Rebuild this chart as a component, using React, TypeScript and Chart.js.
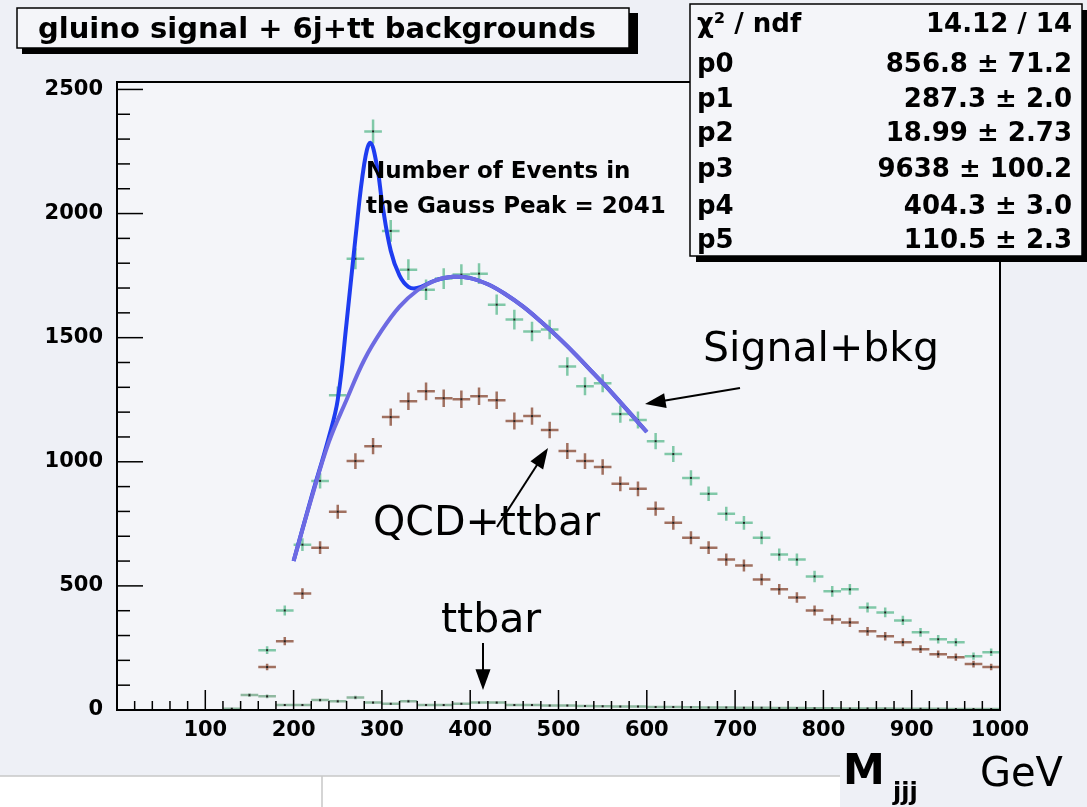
import React, { useEffect, useRef } from "react";
import { Chart, registerables } from "chart.js";
Chart.register(...registerables);

const binCenters = [170,190,210,230,250,270,290,310,330,350,370,390,410,430,450,470,490,510,530,550,570,590,610,630,650,670,690,710,730,750,770,790,810,830,850,870,890,910,930,950,970,990];
const signalBkg = [241,401,666,923,1268,1818,2331,1930,1774,1693,1738,1754,1758,1633,1573,1525,1533,1384,1304,1316,1192,1168,1083,1031,935,871,791,754,694,626,606,538,478,486,413,393,361,313,285,273,217,233];
const qcdTtbar = [173,277,469,654,799,1003,1063,1180,1244,1284,1256,1252,1264,1248,1164,1184,1128,1043,1003,979,911,891,811,754,694,654,606,582,526,486,453,401,365,353,317,297,273,245,225,213,185,173];
const ttCenters = [130,150,170,190,210,230,250,270,290,310,330,350,370,390,410,430,450,470,490,510,530,550,570,590,610,630,650,670,690,710,730,750,770,790,810,830,850,870,890,910,930,950,970,990];
const ttbar = [5,60,55,20,20,40,35,50,30,25,35,20,20,25,30,30,20,20,18,18,16,15,14,14,12,12,11,10,10,9,9,8,8,7,7,6,6,6,5,5,5,4,4,4];
const bkgX = [200,220,240,260,280,300,320,340,360,380,400,420,440,460,480,500,520,540,560,580,600];
const fitBkg = [600,850,1080,1250,1410,1530,1625,1690,1730,1745,1740,1715,1675,1625,1565,1500,1430,1355,1280,1200,1120];
const totX = [200,220,240,250,260,270,280,287,295,300,310,320,330,340,360,380,400,420,440,460,480,500,520,540,560,580,600];
const fitTotal = [600,855,1100,1250,1560,1900,2200,2285,2180,2050,1850,1750,1705,1700,1730,1745,1740,1715,1675,1625,1565,1500,1430,1355,1280,1200,1120];
const yTicks = [0,500,1000,1500,2000,2500];
const xTicks = [100,200,300,400,500,600,700,800,900,1000];
const statsRows = [["χ² / ndf","14.12 / 14"],["p0","856.8 ± 71.2"],["p1","287.3 ± 2.0"],["p2","18.99 ± 2.73"],["p3","9638 ± 100.2"],["p4","404.3 ± 3.0"],["p5","110.5 ± 2.3"]];
const statsY = [25,65,100,134,170,207,241];

const BF = "'DejaVu Sans', Verdana, sans-serif";

function arrow(ctx: CanvasRenderingContext2D, x1: number, y1: number, x2: number, y2: number) {
  const a = Math.atan2(y2 - y1, x2 - x1);
  const h = 22;
  ctx.strokeStyle = "#000"; ctx.fillStyle = "#000"; ctx.lineWidth = 2;
  ctx.beginPath(); ctx.moveTo(x1, y1); ctx.lineTo(x2 - h * 0.8 * Math.cos(a), y2 - h * 0.8 * Math.sin(a)); ctx.stroke();
  ctx.beginPath(); ctx.moveTo(x2, y2);
  ctx.lineTo(x2 - h * Math.cos(a - 0.35), y2 - h * Math.sin(a - 0.35));
  ctx.lineTo(x2 - h * Math.cos(a + 0.35), y2 - h * Math.sin(a + 0.35));
  ctx.closePath(); ctx.fill();
}

const decor = {
  id: "decor",
  beforeDraw(chart: any) {
    const { ctx, chartArea: ca } = chart;
    ctx.save();
    ctx.fillStyle = "#eef0f6";
    ctx.fillRect(0, 0, chart.width, chart.height);
    ctx.fillStyle = "#f4f5f9";
    ctx.fillRect(ca.left, ca.top, ca.right - ca.left, ca.bottom - ca.top);
    ctx.restore();
  },
  beforeDatasetsDraw(chart: any) {
    const { ctx, scales } = chart;
    const xs = scales.x, ys = scales.y;
    ctx.save();
    const drawErr = (cs: number[], vs: number[], color: string, lw: number) => {
      ctx.strokeStyle = color; ctx.lineWidth = lw;
      cs.forEach((c, i) => {
        const v = vs[i];
        const e = Math.sqrt(v);
        const px = xs.getPixelForValue(c), py = ys.getPixelForValue(v);
        ctx.beginPath();
        ctx.moveTo(xs.getPixelForValue(c - 10), py); ctx.lineTo(xs.getPixelForValue(c + 10), py);
        ctx.moveTo(px, ys.getPixelForValue(v - e)); ctx.lineTo(px, ys.getPixelForValue(v + e));
        ctx.stroke();
        ctx.fillStyle = "#222"; ctx.fillRect(px - 1, py - 1, 2, 2);
      });
    };
    drawErr(ttCenters, ttbar, "#8fb8a0", 2.5);
    drawErr(binCenters, qcdTtbar, "#a07060", 2.5);
    drawErr(binCenters, signalBkg, "#80c8a8", 2.5);
    ctx.restore();
  },
  afterDatasetsDraw(chart: any) {
    const { ctx, chartArea: ca, scales } = chart;
    const xs = scales.x, ys = scales.y;
    ctx.save();
    ctx.strokeStyle = "#000"; ctx.lineWidth = 2;
    ctx.strokeRect(ca.left, ca.top, ca.right - ca.left, ca.bottom - ca.top);
    ctx.lineWidth = 1.5;
    for (let v = 0; v <= 1000; v += 20) {
      const px = xs.getPixelForValue(v);
      const len = v % 100 === 0 ? 20 : 9;
      ctx.beginPath(); ctx.moveTo(px, ca.bottom); ctx.lineTo(px, ca.bottom - len); ctx.stroke();
    }
    for (let v = 0; v <= 2500; v += 100) {
      const py = ys.getPixelForValue(v);
      const len = v % 500 === 0 ? 26 : 13;
      ctx.beginPath(); ctx.moveTo(ca.left, py); ctx.lineTo(ca.left + len, py); ctx.stroke();
    }
    ctx.fillStyle = "#000"; ctx.fillRect(22, 13, 616, 41);
    ctx.fillStyle = "#f4f5f9"; ctx.fillRect(17, 8, 612, 40);
    ctx.strokeStyle = "#000"; ctx.lineWidth = 1.5; ctx.strokeRect(17, 8, 612, 40);
    ctx.fillStyle = "#000"; ctx.font = "bold 29px " + BF;
    ctx.textBaseline = "middle"; ctx.textAlign = "left";
    ctx.fillText("gluino signal + 6j+tt backgrounds", 38, 30);
    ctx.fillStyle = "#000"; ctx.fillRect(696, 10, 391, 252);
    ctx.fillStyle = "#f4f5f9"; ctx.fillRect(690, 4, 392, 252);
    ctx.strokeRect(690, 4, 392, 252);
    ctx.fillStyle = "#000"; ctx.font = "bold 26px " + BF;
    statsRows.forEach((r, i) => {
      const y = statsY[i];
      ctx.textAlign = "left"; ctx.fillText(r[0], 697, y);
      ctx.textAlign = "right"; ctx.fillText(r[1], 1072, y);
    });
    ctx.textAlign = "left"; ctx.font = "bold 23px " + BF;
    ctx.fillText("Number of Events in", 366, 172);
    ctx.fillText("the Gauss Peak = 2041", 366, 207);
    ctx.font = "41px " + BF;
    ctx.fillText("Signal+bkg", 703, 350);
    ctx.fillText("QCD+ttbar", 373, 524);
    ctx.fillText("ttbar", 441, 621);
    arrow(ctx, 740, 388, 645, 404);
    arrow(ctx, 497, 527, 548, 448);
    arrow(ctx, 483, 643, 483, 690);
    ctx.fillStyle = "#ffffff"; ctx.fillRect(0, 776, 840, 31);
    ctx.strokeStyle = "#c8c8c8"; ctx.lineWidth = 1.5;
    ctx.beginPath(); ctx.moveTo(0, 776); ctx.lineTo(840, 776); ctx.moveTo(322, 776); ctx.lineTo(322, 807); ctx.stroke();
    ctx.fillStyle = "#000";
    ctx.font = "bold 42px " + BF;
    ctx.fillText("M", 843, 773);
    ctx.font = "bold 24px " + BF;
    ctx.fillText("jjj", 893, 794);
    ctx.font = "40px " + BF;
    ctx.fillText("GeV", 980, 776);
    ctx.restore();
  },
};

export default function App() {
  const ref = useRef<HTMLCanvasElement>(null);
  useEffect(() => {
    document.body.style.margin = "0";
    const tickFont = { family: BF, weight: "bold", size: 21 };
    const chart = new Chart(ref.current!, {
      type: "line",
      data: {
        datasets: [
          { data: bkgX.map((x, i) => ({ x, y: fitBkg[i] })), borderColor: "#6d6ae2", borderWidth: 4, pointRadius: 0, tension: 0.4, order: 1 },
          { data: totX.map((x, i) => ({ x, y: fitTotal[i] })), borderColor: "#1e3cf0", borderWidth: 4, pointRadius: 0, tension: 0.4, order: 2 },
        ],
      },
      options: {
        animation: false,
        responsive: false,
        layout: { padding: { top: 82, right: 87, left: 0, bottom: 0 } },
        plugins: { legend: { display: false }, tooltip: { enabled: false } },
        scales: {
          x: {
            type: "linear", min: 0, max: 1000,
            afterBuildTicks: (s: any) => { s.ticks = xTicks.map((v) => ({ value: v })); },
            afterFit: (s: any) => { s.height = 97; },
            grid: { display: false }, border: { display: false },
            ticks: { color: "#000", font: tickFont, maxRotation: 0, padding: 0, callback: (v: any) => String(v) },
          },
          y: {
            min: 0, max: 2530,
            afterBuildTicks: (s: any) => { s.ticks = yTicks.map((v) => ({ value: v })); },
            afterFit: (s: any) => { s.width = 117; },
            grid: { display: false }, border: { display: false },
            ticks: { color: "#000", font: tickFont, padding: 6, callback: (v: any) => String(v) },
          },
        },
      } as any,
      plugins: [decor],
    });
    return () => chart.destroy();
  }, []);
  return (
    <div style={{ position: "absolute", left: 0, top: 0, width: 1087, height: 807 }}>
      <canvas ref={ref} width={1087} height={807} style={{ width: 1087, height: 807 }} />
    </div>
  );
}
